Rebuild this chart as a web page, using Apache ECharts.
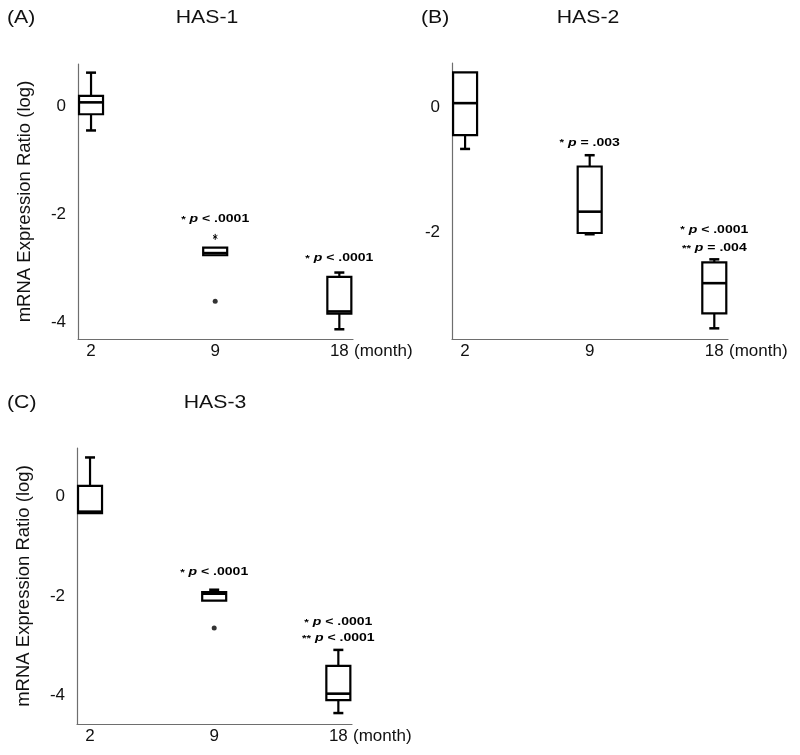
<!DOCTYPE html>
<html><head><meta charset="utf-8">
<script src="https://cdn.jsdelivr.net/npm/echarts@6/dist/echarts.min.js"></script>
<style>html,body{margin:0;padding:0;background:#fff}#c{width:800px;height:755px}</style>
</head><body><div id="c"></div>
<script>
// ---- data ----
const months = ['2', '9', '18'];
// per month: [min, Q1, median, Q3, max]  (log mRNA expression ratio)
const has1Box = [[-0.45, -0.15, 0.07, 0.19, 0.62], [-2.76, -2.76, -2.72, -2.62, -2.62], [-4.13, -3.84, -3.80, -3.16, -3.08]];
const has2Box = [[-0.67, -0.45, 0.06, 0.55, 0.55], [-2.03, -2.01, -1.67, -0.95, -0.77], [-3.53, -3.29, -2.81, -2.48, -2.43]];
const has3Box = [[-0.33, -0.33, -0.30, 0.22, 0.79], [-2.09, -2.09, -1.95, -1.92, -1.87], [-4.35, -4.09, -3.96, -3.40, -3.08]];
// outliers: [month index, value]
const has1Dots = [[1, -3.61]];
const has1Stars = [[1, -2.42]];
const has2Dots = [];
const has3Dots = [[1, -2.64]];
// significance notes: [month index, value, text]
const has1Notes = [[1, -2.09, '*p < .0001'], [2, -2.81, '*p < .0001']];
const has2Notes = [[1, -0.57, '*p = .003'], [2, -1.96, '*p < .0001'], [2, -2.25, '**p = .004']];
const has3Notes = [[1, -1.52, '*p < .0001'], [2, -2.52, '*p < .0001'], [2, -2.84, '**p < .0001']];
const yTicksA = [-4, -2, 0];
const yTicksB = [-2, 0];
const yTicksC = [-4, -2, 0];
const titles = ['HAS-1', 'HAS-2', 'HAS-3'];
const panelLetters = ['(A)', '(B)', '(C)'];
const yName = 'mRNA Expression Ratio (log)';
const xName = '(month)';

// ---- chart ----
const FONT = '"Liberation Sans", Arial, sans-serif';
const chart = echarts.init(document.getElementById('c'), null, {renderer: 'canvas'});

function boxSeries(idx, boxes) {
  return {
    type: 'custom', xAxisIndex: idx, yAxisIndex: idx,
    data: boxes.map((b, i) => [i].concat(b)),
    encode: {x: 0, y: [1, 2, 3, 4, 5]},
    renderItem: (params, api) => {
      const xv = api.value(0);
      const y = [1, 2, 3, 4, 5].map(k => api.coord([xv, api.value(k)])[1]);
      const cx = api.coord([xv, 0])[0];
      const hw = 12, cw = 5;
      const ln = (x1, y1, x2, y2, w) => ({type: 'line', shape: {x1, y1, x2, y2}, style: {stroke: '#000', lineWidth: w || 2.2}});
      const ch = [];
      if (y[4] < y[3] - 0.5) { ch.push(ln(cx, y[3], cx, y[4])); ch.push(ln(cx - cw, y[4], cx + cw, y[4], 2.5)); }
      if (y[0] > y[1] + 0.5) { ch.push(ln(cx, y[1], cx, y[0])); ch.push(ln(cx - cw, y[0], cx + cw, y[0], 2.5)); }
      ch.push({type: 'rect', shape: {x: cx - hw, y: y[3], width: 2 * hw, height: y[1] - y[3]}, style: {fill: '#fff', stroke: '#000', lineWidth: 2.2}});
      ch.push(ln(cx - hw, y[2], cx + hw, y[2], 2.6));
      return {type: 'group', children: ch};
    }
  };
}
function dotSeries(idx, dots) {
  return {type: 'scatter', xAxisIndex: idx, yAxisIndex: idx, data: dots, symbol: 'circle', symbolSize: 5,
    itemStyle: {color: '#000'}, silent: true};
}
function starSeries(idx, stars) {
  return {
    type: 'custom', xAxisIndex: idx, yAxisIndex: idx, data: stars, encode: {x: 0, y: 1},
    renderItem: (params, api) => {
      const c = api.coord([api.value(0), api.value(1)]);
      const s = {stroke: '#000', lineWidth: 1};
      return {type: 'group', children: [
        {type: 'line', shape: {x1: c[0], y1: c[1] - 3, x2: c[0], y2: c[1] + 3}, style: s},
        {type: 'line', shape: {x1: c[0] - 2.2, y1: c[1] - 1.5, x2: c[0] + 2.2, y2: c[1] + 1.5}, style: s},
        {type: 'line', shape: {x1: c[0] - 2.2, y1: c[1] + 1.5, x2: c[0] + 2.2, y2: c[1] - 1.5}, style: s}
      ]};
    }
  };
}
function noteSeries(idx, notes) {
  return {
    type: 'custom', xAxisIndex: idx, yAxisIndex: idx,
    data: notes.map(n => [n[0], n[1]]), encode: {x: 0, y: 1},
    renderItem: (params, api) => {
      const c = api.coord([api.value(0), api.value(1)]);
      const t = notes[params.dataIndex][2];
      const m = t.match(/^(\*+)p(.*)$/);
      const base = {fontFamily: FONT, fontWeight: 'bold', fill: '#000'};
      return {
        type: 'text', x: c[0], y: c[1], scaleX: 1.22,
        style: {
          text: '{s|' + m[1] + '}{p| p}{t|' + m[2] + '}',
          textAlign: 'center', textVerticalAlign: 'middle', align: 'center', verticalAlign: 'middle',
          font: 'bold 11px ' + FONT, fill: '#000',
          rich: {
            s: Object.assign({}, base, {fontSize: 9.5, fontStyle: 'normal'}),
            p: Object.assign({}, base, {fontSize: 11.5, fontStyle: 'italic'}),
            t: Object.assign({}, base, {fontSize: 11.5, fontStyle: 'normal'})
          }
        }
      };
    }
  };
}

const axisLineStyle = {show: true, onZero: false, lineStyle: {color: '#6e6e6e', width: 1.2}};
function xAxis(idx) {
  return {
    type: 'value', gridIndex: idx, min: -0.105, max: 2.11,
    axisLine: axisLineStyle, axisTick: {show: false}, splitLine: {show: false},
    axisLabel: {customValues: [0, 1, 2], formatter: v => months[Math.round(v)], color: '#111',
      fontFamily: FONT, fontSize: 17, margin: 4},
    name: xName, nameLocation: 'end', nameGap: 1,
    nameTextStyle: {color: '#111', fontFamily: FONT, fontSize: 17, verticalAlign: 'top', align: 'left', padding: [4, 0, 0, 0]}
  };
}
function yAxis(idx, min, max, ticks, withName) {
  const a = {
    type: 'value', gridIndex: idx, min: min, max: max,
    axisLine: axisLineStyle, axisTick: {show: false}, splitLine: {show: false},
    axisLabel: {customValues: ticks, color: '#111', fontFamily: FONT, fontSize: 17, margin: 12}
  };
  if (withName) {
    a.name = yName; a.nameLocation = 'middle'; a.nameGap = 44;
    a.nameTextStyle = {color: '#111', fontFamily: FONT, fontSize: 18.5};
  }
  return a;
}
function headText(x, y, txt, align) {
  return {type: 'text', x: x, y: y, scaleX: 1.18, silent: true,
    style: {text: txt, font: '18px ' + FONT, fill: '#111', textAlign: align, textVerticalAlign: 'middle', align: align, verticalAlign: 'middle'}};
}

const option = {
  backgroundColor: '#fff',
  animation: false,
  grid: [
    {left: 78, top: 64, width: 275, height: 275},
    {left: 452, top: 63, width: 276, height: 276},
    {left: 77, top: 448, width: 275, height: 276}
  ],
  xAxis: [xAxis(0), xAxis(1), xAxis(2)],
  yAxis: [yAxis(0, -4.31, 0.78, yTicksA, true), yAxis(1, -3.70, 0.70, yTicksB, false), yAxis(2, -4.57, 0.98, yTicksC, true)],
  graphic: [
    headText(7, 18, panelLetters[0], 'left'),
    headText(207, 18, titles[0], 'center'),
    headText(421, 18, panelLetters[1], 'left'),
    headText(588, 18, titles[1], 'center'),
    headText(7, 403, panelLetters[2], 'left'),
    headText(215, 403, titles[2], 'center')
  ],
  series: [
    boxSeries(0, has1Box), dotSeries(0, has1Dots), starSeries(0, has1Stars), noteSeries(0, has1Notes),
    boxSeries(1, has2Box), dotSeries(1, has2Dots), noteSeries(1, has2Notes),
    boxSeries(2, has3Box), dotSeries(2, has3Dots), noteSeries(2, has3Notes)
  ]
};
chart.setOption(option);
</script></body></html>
